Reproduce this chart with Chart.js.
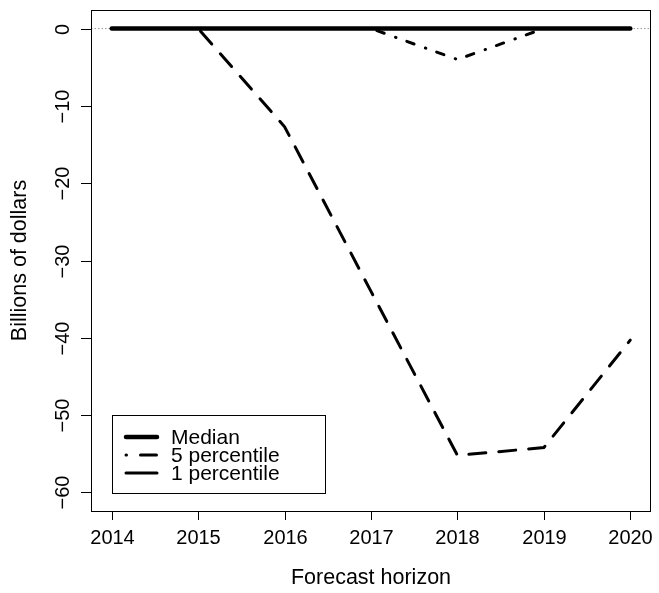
<!DOCTYPE html>
<html>
<head>
<meta charset="utf-8">
<script src="https://cdn.jsdelivr.net/npm/chart.js@4/dist/chart.umd.min.js"></script>
<style>
	body { margin: 0; background: #fff; }
	#wrap { width: 659px; height: 593px; position: relative; }
</style>
</head>
<body>
<div id="wrap"><canvas id="chart"></canvas></div>
<script>
// data
const years = [2014, 2015, 2016, 2017, 2018, 2019, 2020]
const median = [0, 0, 0, 0, 0, 0, 0]
const pct5 = [0, 0, 0, 0, -4.0, 0, 0]
const pct1 = [0, 0, -12.7, -34, -55.2, -54.2, -40.3]

// axis ticks
const xTicks = [2014, 2015, 2016, 2017, 2018, 2019, 2020]
const yTicks = [0, -10, -20, -30, -40, -50, -60]
const seriesNames = ['Median', '5 percentile', '1 percentile']

const FAMILY = '"Liberation Sans", Arial, Helvetica, sans-serif'
const TICK_FONT = '20px ' + FAMILY
const TITLE_FONT = '21.5px ' + FAMILY
const LEGEND_FONT = '21px ' + FAMILY

const toPoints = (arr) => years.map((y, i) => ({ x: y, y: arr[i] }))
const fmt = (v) => (v < 0 ? '\u2212' + Math.abs(v) : String(v))

// base R look: box, outside ticks, rotated y labels
const rAxes = {
	id: 'rAxes',
	beforeDatasetsDraw(chart) {
		let { ctx, chartArea, scales } = chart
		let y0 = scales.y.getPixelForValue(0)
		ctx.save()
		ctx.strokeStyle = '#9a9a9a'
		ctx.lineWidth = 1
		ctx.setLineDash([1.5, 2])
		ctx.beginPath()
		ctx.moveTo(chartArea.left, y0)
		ctx.lineTo(chartArea.right, y0)
		ctx.stroke()
		ctx.restore()
	},
	afterDraw(chart) {
		let { ctx, chartArea, scales } = chart
		let a = chartArea
		ctx.save()
		ctx.strokeStyle = '#000'
		ctx.fillStyle = '#000'
		ctx.lineWidth = 1
		ctx.setLineDash([])
		ctx.strokeRect(a.left + 0.5, a.top + 0.5, a.right - a.left - 1, a.bottom - a.top)

		ctx.font = TICK_FONT
		ctx.textAlign = 'center'
		ctx.textBaseline = 'middle'
		// x axis
		xTicks.forEach(t => {
			let px = Math.round(scales.x.getPixelForValue(t)) + 0.5
			ctx.beginPath()
			ctx.moveTo(px, a.bottom)
			ctx.lineTo(px, a.bottom + 9)
			ctx.stroke()
			ctx.fillText(String(t), px, a.bottom + 27)
		})
		// y axis
		yTicks.forEach(t => {
			let py = Math.round(scales.y.getPixelForValue(t)) + 0.5
			ctx.beginPath()
			ctx.moveTo(a.left - 10, py)
			ctx.lineTo(a.left, py)
			ctx.stroke()
			ctx.save()
			ctx.translate(a.left - 28, py)
			ctx.rotate(-Math.PI / 2)
			ctx.fillText(fmt(t), 0, 0)
			ctx.restore()
		})
		// axis titles
		ctx.font = TITLE_FONT
		ctx.fillText('Forecast horizon', (a.left + a.right) / 2, a.bottom + 67)
		ctx.save()
		ctx.translate(a.left - 71, (a.top + a.bottom) / 2)
		ctx.rotate(-Math.PI / 2)
		ctx.fillText('Billions of dollars', 0, 0)
		ctx.restore()

		// legend box, bottom left
		let lx = a.left + 21, ly = a.top + 405, lw = 213, lh = 78
		ctx.fillStyle = '#fff'
		ctx.fillRect(lx, ly, lw, lh)
		ctx.strokeRect(lx + 0.5, ly + 0.5, lw, lh)
		ctx.textAlign = 'left'
		ctx.font = LEGEND_FONT
		chart.data.datasets.forEach((ds, i) => {
			let ry = ly + 22 + i * 18
			ctx.save()
			ctx.strokeStyle = ds.borderColor
			ctx.lineWidth = ds.borderWidth
			ctx.lineCap = ds.borderCapStyle || 'round'
			ctx.setLineDash(ds.legendDash || [])
			ctx.beginPath()
			ctx.moveTo(lx + 14, ry)
			ctx.lineTo(lx + 45, ry)
			ctx.stroke()
			ctx.restore()
			ctx.fillStyle = '#000'
			ctx.fillText(ds.label, lx + 59, ry + 1)
		})
		ctx.restore()
	}
}

const chart = new Chart(document.getElementById('chart'), {
	type: 'line',
	data: {
		datasets: [
			{
				label: seriesNames[0],
				data: toPoints(median),
				borderColor: '#000',
				borderWidth: 4.5,
				borderCapStyle: 'round',
				pointRadius: 0
			},
			{
				label: seriesNames[1],
				data: toPoints(pct5),
				borderColor: '#000',
				borderWidth: 3,
				borderCapStyle: 'round',
				borderDash: [0.5, 11.5, 7.7, 12],
				legendDash: [0.5, 14, 16, 10],
				pointRadius: 0
			},
			{
				label: seriesNames[2],
				data: toPoints(pct1),
				borderColor: '#000',
				borderWidth: 3,
				borderCapStyle: 'round',
				borderDash: [17, 13],
				legendDash: [31, 10],
				pointRadius: 0
			}
		]
	},
	options: {
		responsive: true,
		maintainAspectRatio: false,
		animation: false,
		devicePixelRatio: 1,
		layout: { padding: { left: 91, right: 8, top: 10, bottom: 82 } },
		scales: {
			x: { type: 'linear', min: 2013.76, max: 2020.24, display: false },
			y: { type: 'linear', min: -62.4, max: 2.4, display: false }
		},
		plugins: {
			legend: { display: false },
			tooltip: { enabled: false }
		}
	},
	plugins: [rAxes]
})
</script>
</body>
</html>
